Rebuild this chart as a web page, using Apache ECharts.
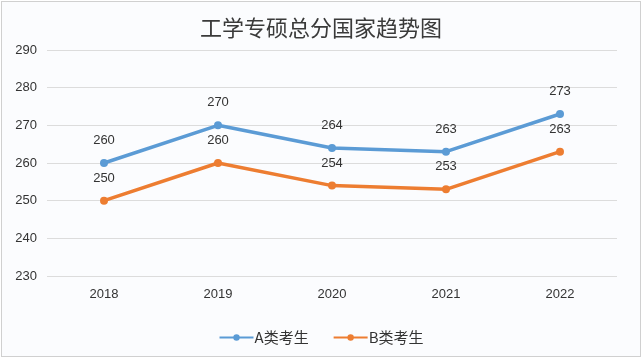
<!DOCTYPE html>
<html><head><meta charset="utf-8">
<script src="https://cdn.jsdelivr.net/npm/echarts@6/dist/echarts.min.js"></script>
<style>html,body{margin:0;padding:0;background:#fff}
#c{position:absolute;left:1px;top:1px;width:638px;height:354px;border:1px solid #d0d0d0;background:#fbfcfe}</style>
</head><body><div id="c"></div>
<script>
const titleText = '工学专硕总分国家趋势图';
const categories = ['2018','2019','2020','2021','2022'];
const seriesAName = 'A类考生';
const seriesBName = 'B类考生';
const seriesA = [260,270,264,263,273];
const seriesB = [250,260,254,253,263];
const chart = echarts.init(document.getElementById('c'));
const lbl = {show:true, position:'top', distance:12, color:'#333', fontSize:13, fontFamily:'Liberation Sans, Arial, sans-serif'};
chart.setOption({
  backgroundColor:'#fbfcfe',
  title:{text:titleText,left:'center',top:10,textStyle:{fontFamily:'Noto Sans CJK SC',fontWeight:'normal',fontSize:22,color:'#3a3a3a'}},
  legend:{bottom:6,left:'center',itemWidth:34,itemHeight:8,itemGap:24,
    textStyle:{fontFamily:'Noto Sans CJK SC',fontSize:15,color:'#333',padding:[0,0,0,-4]},
    data:[seriesAName,seriesBName]},
  grid:{left:45,right:23,top:48,bottom:80},
  xAxis:{type:'category',data:categories,boundaryGap:true,
    axisLine:{show:false},axisTick:{show:false},
    axisLabel:{margin:12,color:'#333',fontSize:13,fontFamily:'Liberation Sans, Arial, sans-serif'}},
  yAxis:{type:'value',min:230,max:290,interval:10,
    axisLine:{show:false},axisTick:{show:false},
    splitLine:{lineStyle:{color:'#dcdcdc',width:1}},
    axisLabel:{margin:10,color:'#333',fontSize:13,fontFamily:'Liberation Sans, Arial, sans-serif'}},
  series:[
    {name:seriesAName,type:'line',data:seriesA,color:'#5b9bd5',symbol:'circle',symbolSize:8,
     lineStyle:{width:3.5},label:lbl},
    {name:seriesBName,type:'line',data:seriesB,color:'#ed7d31',symbol:'circle',symbolSize:8,
     lineStyle:{width:3.5},label:lbl}
  ]
});
</script></body></html>
